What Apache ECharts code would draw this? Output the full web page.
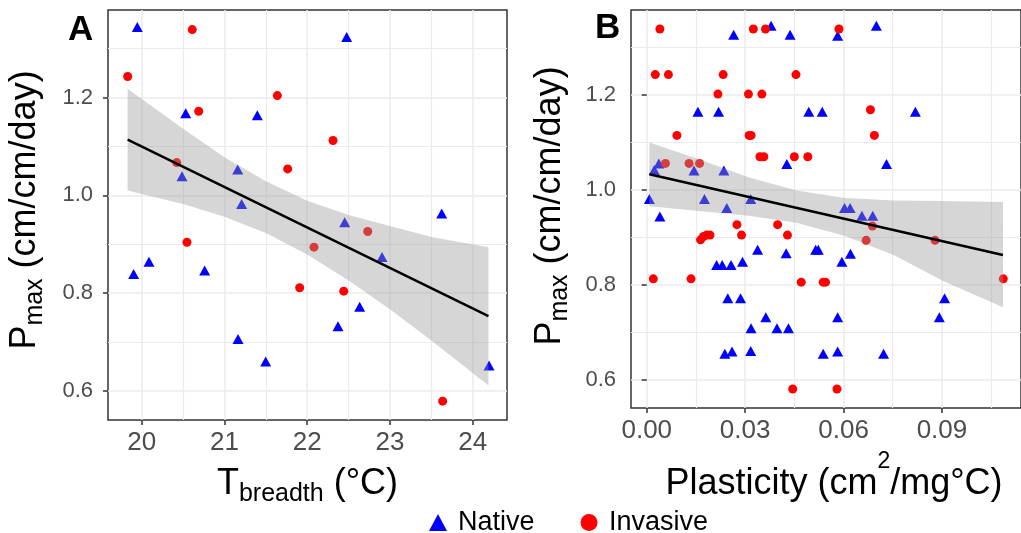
<!DOCTYPE html>
<html>
<head>
<meta charset="utf-8">
<script src="https://cdn.jsdelivr.net/npm/echarts@6/dist/echarts.min.js"></script>
<style>
html,body{margin:0;padding:0;background:#fff;}
#chart{width:1021px;height:533px;}
</style>
</head>
<body>
<div id="chart"></div>
<script>
// ---------- Panel A data: Tbreadth (°C) vs Pmax ----------
const aNativeX = [19.947, 22.477, 20.532, 21.397, 20.487, 21.160, 21.208, 23.625, 22.453, 22.904, 20.088, 19.903, 20.761, 22.634, 22.372, 21.164, 21.498, 24.197];
const aNativeY = [1.344, 1.324, 1.168, 1.164, 1.039, 1.053, 0.982, 0.963, 0.945, 0.874, 0.864, 0.839, 0.846, 0.772, 0.732, 0.706, 0.660, 0.652];
const aInvasiveX = [20.611, 19.831, 20.689, 21.639, 22.312, 21.764, 20.423, 22.731, 22.082, 20.547, 21.909, 22.441, 23.637];
const aInvasiveY = [1.339, 1.243, 1.172, 1.204, 1.112, 1.054, 1.067, 0.926, 0.894, 0.904, 0.811, 0.804, 0.579];
const aFitX = [19.83, 24.19];
const aFitY = [1.114, 0.753];
const aBandX = [19.83, 20.5, 21.0, 21.5, 22.0, 22.5, 23.0, 23.5, 24.19];
const aBandUpper = [1.218, 1.136, 1.078, 1.029, 0.989, 0.960, 0.937, 0.915, 0.894];
const aBandLower = [1.010, 0.982, 0.956, 0.923, 0.879, 0.826, 0.767, 0.703, 0.611];

// ---------- Panel B data: Plasticity vs Pmax ----------
const bNativeX = [0.0379, 0.0700, 0.0265, 0.0437, 0.0582, 0.0156, 0.0219, 0.0494, 0.0535, 0.0819,
  0.0427, 0.0731, 0.0037, 0.0023, 0.0144, 0.0235, 0.0008, 0.0176, 0.0317, 0.0244,
  0.0603, 0.0620, 0.0040, 0.0656, 0.0689, 0.0338, 0.0425, 0.0515, 0.0523, 0.0621,
  0.0595, 0.0292, 0.0213, 0.0230, 0.0257, 0.0247, 0.0286, 0.0908, 0.0363, 0.0582,
  0.0892, 0.0318, 0.0397, 0.0432, 0.0238, 0.0260, 0.0317, 0.0538, 0.0582, 0.0722];
const bNativeY = [1.345, 1.345, 1.326, 1.326, 1.324, 1.164, 1.164, 1.164, 1.164, 1.164,
  1.054, 1.054, 1.055, 1.041, 1.040, 1.040, 0.980, 0.980, 0.980, 0.961,
  0.961, 0.961, 0.943, 0.945, 0.945, 0.873, 0.866, 0.873, 0.873, 0.865,
  0.848, 0.848, 0.841, 0.841, 0.841, 0.771, 0.771, 0.771, 0.731, 0.731,
  0.731, 0.708, 0.708, 0.708, 0.654, 0.659, 0.660, 0.654, 0.659, 0.654];
const bInvasiveX = [0.0040, 0.0325, 0.0362, 0.0586, 0.0026, 0.0066, 0.0233, 0.0455, 0.0217, 0.0310,
  0.0351, 0.0682, 0.0092, 0.0312, 0.0318, 0.0694, 0.0345, 0.0357, 0.0450, 0.0491,
  0.0057, 0.0129, 0.0161, 0.0275, 0.0399, 0.0688, 0.0289, 0.0429, 0.0164, 0.0173,
  0.0183, 0.0193, 0.0669, 0.0879, 0.0020, 0.0135, 0.0471, 0.0538, 0.0545, 0.1087,
  0.0445, 0.0580];
const bInvasiveY = [1.338, 1.338, 1.338, 1.338, 1.242, 1.242, 1.242, 1.242, 1.201, 1.201,
  1.201, 1.168, 1.114, 1.114, 1.114, 1.114, 1.069, 1.069, 1.069, 1.069,
  1.055, 1.055, 1.055, 0.926, 0.926, 0.923, 0.904, 0.904, 0.894, 0.901,
  0.904, 0.904, 0.893, 0.893, 0.812, 0.812, 0.805, 0.805, 0.805, 0.812,
  0.580, 0.580];
const bFitX = [0.0008, 0.1086];
const bFitY = [1.032, 0.862];
const bBandX = [0.0008, 0.0159, 0.031, 0.0456, 0.0605, 0.0753, 0.0902, 0.1086];
const bBandUpper = [1.099, 1.064, 1.026, 0.998, 0.982, 0.977, 0.976, 0.974];
const bBandLower = [0.965, 0.955, 0.945, 0.930, 0.902, 0.862, 0.808, 0.752];

// ---------- Tick values ----------
const aXTicks = [20, 21, 22, 23, 24];
const aXMinor = [20.5, 21.5, 22.5, 23.5];
const bXTicks = [0, 0.03, 0.06, 0.09];
const bXMinor = [0.015, 0.045, 0.075, 0.105];
const yTicks = [0.6, 0.8, 1.0, 1.2];
const yMinor = [0.7, 0.9, 1.1, 1.3];

const FONT = "'Liberation Sans', Arial, sans-serif";
const GRIDC = '#EBEBEB';
const pairs = (xs, ys) => xs.map((x, i) => [x, ys[i]]);

function majorX(gridIndex, min, max, ticks, fmt) {
  return {
    type: 'value', gridIndex, min, max, position: 'bottom',
    axisLine: {show: false},
    axisTick: {show: true, length: 5, customValues: ticks, lineStyle: {color: '#333', width: 1.5}},
    axisLabel: {customValues: ticks, fontSize: 26, color: '#4D4D4D', margin: 10, fontFamily: FONT, formatter: fmt},
    splitLine: {show: true, lineStyle: {color: GRIDC, width: 1.5}}
  };
}
function minorX(gridIndex, min, max, ticks) {
  return {
    type: 'value', gridIndex, min, max, position: 'top',
    axisLine: {show: false},
    axisTick: {show: false, customValues: ticks},
    axisLabel: {show: false},
    splitLine: {show: true, lineStyle: {color: GRIDC, width: 1.2}}
  };
}
function majorY(gridIndex, min, max) {
  return {
    type: 'value', gridIndex, min, max, position: 'left',
    axisLine: {show: false},
    axisTick: {show: true, length: 5, customValues: yTicks, lineStyle: {color: '#333', width: 1.5}},
    axisLabel: {customValues: yTicks, fontSize: 22, color: '#4D4D4D', margin: 15, fontFamily: FONT,
      formatter: v => v.toFixed(1)},
    splitLine: {show: true, lineStyle: {color: GRIDC, width: 1.5}}
  };
}
function minorY(gridIndex, min, max) {
  return {
    type: 'value', gridIndex, min, max, position: 'right',
    axisLine: {show: false},
    axisTick: {show: false, customValues: yMinor},
    axisLabel: {show: false},
    splitLine: {show: true, lineStyle: {color: GRIDC, width: 1.2}}
  };
}

function bandSeries(xi, yi, xs, lo, up) {
  return {
    type: 'custom', xAxisIndex: xi, yAxisIndex: yi, z: 5, silent: true,
    data: xs.map((x, i) => [x, lo[i], up[i]]),
    encode: {x: 0, y: [1, 2]},
    renderItem: function (params, api) {
      if (params.dataIndex !== 0) return null;
      const pts = [];
      for (let i = 0; i < xs.length; i++) pts.push(api.coord([xs[i], up[i]]));
      for (let i = xs.length - 1; i >= 0; i--) pts.push(api.coord([xs[i], lo[i]]));
      return {type: 'polygon', shape: {points: pts}, style: {fill: 'rgba(153,153,153,0.4)'}};
    }
  };
}
function fitSeries(xi, yi, xs, ys) {
  return {
    type: 'line', xAxisIndex: xi, yAxisIndex: yi, z: 6, silent: true,
    data: pairs(xs, ys), symbol: 'none',
    lineStyle: {color: '#000', width: 2.5}
  };
}
function pointSeries(name, xi, yi, xs, ys) {
  const nat = name === 'Native';
  return {
    name, type: 'scatter', xAxisIndex: xi, yAxisIndex: yi, z: 3,
    data: pairs(xs, ys),
    symbol: nat ? 'triangle' : 'circle',
    symbolSize: nat ? [11, 10] : 9,
    itemStyle: {color: nat ? '#0000FF' : '#FF0000', opacity: 1}
  };
}

const titleRich = {
  m: {fontSize: 36, lineHeight: 36, verticalAlign: 'top', fill: '#000', fontFamily: FONT},
  s: {fontSize: 25, lineHeight: 56, fill: '#000', fontFamily: FONT}
};

const chart = echarts.init(document.getElementById('chart'), null, {renderer: 'canvas'});
chart.setOption({
  animation: false,
  backgroundColor: '#fff',
  grid: [
    {left: 108, top: 10, width: 399, height: 410, show: true, borderColor: '#333', borderWidth: 1.5},
    {left: 631, top: 10, width: 399, height: 398, show: true, borderColor: '#333', borderWidth: 1.5}
  ],
  xAxis: [
    majorX(0, 19.593, 24.414, aXTicks, v => String(Math.round(v))),
    minorX(0, 19.593, 24.414, aXMinor),
    majorX(1, -0.0048, 0.1141, bXTicks, v => v.toFixed(2)),
    minorX(1, -0.0048, 0.1141, bXMinor)
  ],
  yAxis: [
    majorY(0, 0.5405, 1.379),
    minorY(0, 0.5405, 1.379),
    majorY(1, 0.540, 1.378),
    minorY(1, 0.540, 1.378)
  ],
  legend: {
    left: 429, top: 509, padding: 0, itemGap: 46, itemWidth: 18, itemHeight: 17,
    selectedMode: false,
    textStyle: {fontSize: 27, color: '#000', fontFamily: FONT, padding: [0, 0, 0, 6]},
    data: [{name: 'Native', icon: 'triangle'}, {name: 'Invasive', icon: 'circle'}]
  },
  series: [
    pointSeries('Native', 0, 0, aNativeX, aNativeY),
    pointSeries('Invasive', 0, 0, aInvasiveX, aInvasiveY),
    bandSeries(0, 0, aBandX, aBandLower, aBandUpper),
    fitSeries(0, 0, aFitX, aFitY),
    pointSeries('Native', 2, 2, bNativeX, bNativeY),
    pointSeries('Invasive', 2, 2, bInvasiveX, bInvasiveY),
    bandSeries(2, 2, bBandX, bBandLower, bBandUpper),
    fitSeries(2, 2, bFitX, bFitY)
  ],
  graphic: [
    {type: 'text', x: 68, y: 30, style: {text: 'A', fontSize: 35, fontWeight: 'bold', fontFamily: FONT, fill: '#000', textAlign: 'left', textVerticalAlign: 'middle'}},
    {type: 'text', x: 595, y: 28, style: {text: 'B', fontSize: 35, fontWeight: 'bold', fontFamily: FONT, fill: '#000', textAlign: 'left', textVerticalAlign: 'middle'}},
    {type: 'text', x: 307.5, y: 466, style: {
      text: '{m|T}{s|breadth}{m| (°C)}', textAlign: 'center', textVerticalAlign: 'top', fill: '#000', fontFamily: FONT,
      rich: titleRich}},
    {type: 'text', x: 834, y: 450, style: {
      text: '{m|Plasticity (cm}{u|2}{m|/mg°C)}', textAlign: 'center', textVerticalAlign: 'top', fill: '#000', fontFamily: FONT,
      rich: {
        m: {fontSize: 36, lineHeight: 52, verticalAlign: 'bottom', fill: '#000', fontFamily: FONT},
        u: {fontSize: 23, lineHeight: 40, verticalAlign: 'top', fill: '#000', fontFamily: FONT}
      }}},
    {type: 'text', x: 7, y: 210, rotation: Math.PI / 2, style: {
      text: '{m|P}{s|max}{m| (cm/cm/day)}', textAlign: 'center', textVerticalAlign: 'top', fill: '#000', fontFamily: FONT,
      rich: titleRich}},
    {type: 'text', x: 532, y: 206, rotation: Math.PI / 2, style: {
      text: '{m|P}{s|max}{m| (cm/cm/day)}', textAlign: 'center', textVerticalAlign: 'top', fill: '#000', fontFamily: FONT,
      rich: titleRich}}
  ]
});
</script>
</body>
</html>
